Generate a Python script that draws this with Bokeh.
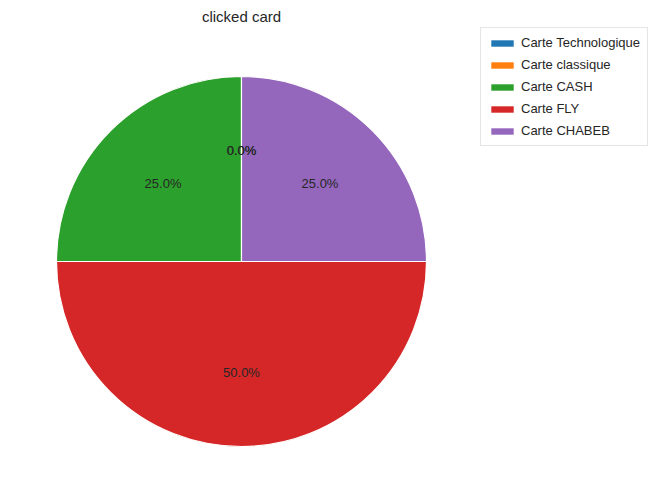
import numpy as np
from bokeh.plotting import figure
from bokeh.models import Range1d, Legend, LegendItem, ColumnDataSource
from bokeh.core.properties import value
from bokeh.embed import file_html
from bokeh.resources import INLINE

labels = ["Carte Technologique", "Carte classique", "Carte CASH", "Carte FLY", "Carte CHABEB"]
counts = [0, 0, 1, 2, 1]
colors = ["#1f77b4", "#ff7f0e", "#2ca02c", "#d62728", "#9467bd"]
title = "clicked card"

W, H = 650, 486
cx, cy, r = 241, 225, 185

p = figure(width=W, height=H, output_backend="svg", toolbar_location=None,
           x_range=Range1d(0, W), y_range=Range1d(0, H), min_border=0)
p.axis.visible = False
p.grid.visible = False
p.outline_line_color = None

vals = np.array(counts, dtype=float)
frac = vals / vals.sum()
ends = np.pi / 2 + 2 * np.pi * np.cumsum(frac)
starts = ends - 2 * np.pi * frac
src = ColumnDataSource(dict(start=starts, end=ends, color=colors,
                            lx=cx + 0.6 * r * np.cos((starts + ends) / 2),
                            ly=cy + 0.6 * r * np.sin((starts + ends) / 2),
                            txt=["%.1f%%" % (f * 100) for f in frac]))
p.wedge(x=cx, y=cy, radius=r, start_angle="start", end_angle="end",
        fill_color="color", line_color="white", line_width=1.2, source=src)
p.text(x="lx", y="ly", text="txt", source=src, text_align="center", text_baseline="middle",
       text_font=value("Liberation Sans"), text_font_size="13px", text_color="#262626")
p.text(x=[cx], y=[H - 16], text=[title], text_align="center", text_baseline="middle",
       text_font=value("Liberation Sans"), text_font_size="15px", text_color="#262626")

items = []
for lab, c in zip(labels, colors):
    rr = p.rect(x=[-500], y=[-500], width=1, height=1, fill_color=c, line_color=None)
    items.append(LegendItem(label=lab, renderers=[rr]))
leg = Legend(items=items, location=(480, 340), label_text_font="Liberation Sans",
             label_text_font_size="13px", label_text_color="#262626",
             glyph_width=28, glyph_height=8, label_height=14, spacing=7,
             padding=7, margin=0, border_line_color="#cccccc", border_line_width=1,
             background_fill_alpha=1)
p.add_layout(leg)

open("out.html", "w").write(file_html(p, INLINE))
